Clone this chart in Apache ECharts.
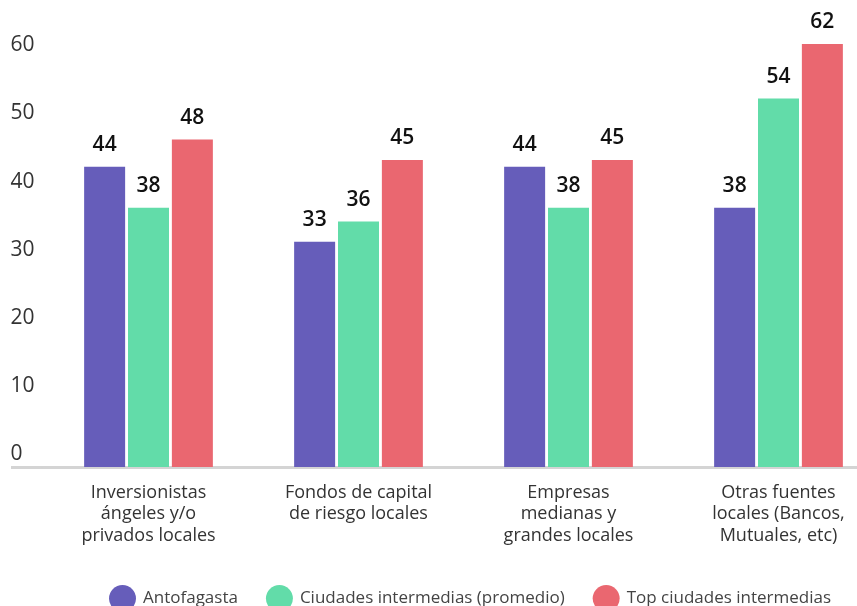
<!DOCTYPE html>
<html><head><meta charset="utf-8">
<script src="https://cdn.jsdelivr.net/npm/echarts@6/dist/echarts.min.js"></script>
<style>html,body{margin:0;padding:0;background:#fff}#c{width:857px;height:606px}</style>
</head><body><div id="c"></div>
<script>
const categories = ["Inversionistas\nángeles y/o\nprivados locales", "Fondos de capital\nde riesgo locales", "Empresas\nmedianas y\ngrandes locales", "Otras fuentes\nlocales (Bancos,\nMutuales, etc)"];
const seriesNames = ["Antofagasta", "Ciudades intermedias (promedio)", "Top ciudades intermedias"];
const antofagasta = [44, 33, 44, 38];
const intermediasProm = [38, 36, 38, 54];
const topIntermedias = [48, 45, 45, 62];
const colors = ["#665DBA", "#62DCA9", "#EA6770"];
const FONT = "Open Sans";
const chart = echarts.init(document.getElementById('c'));
const mk = (name, data, color) => ({
  name, type: 'bar', data, barWidth: 41, barGap: '7%',
  itemStyle: { color },
  label: { show: true, position: 'top', distance: 11, color: '#111', fontSize: 21, fontFamily: FONT, fontWeight: 600 }
});
chart.setOption({
  animation: false,
  textStyle: { fontFamily: FONT },
  grid: { left: 43.5, width: 840, top: 44, bottom: 139, containLabel: false, outerBoundsMode: 'none' },
  legend: {
    left: 104, top: 580, icon: 'circle', itemWidth: 27, itemHeight: 27, itemGap: 28,
    textStyle: { fontSize: 17, color: '#444', fontFamily: FONT, padding: [0, 0, 0, 2] },
    data: seriesNames
  },
  xAxis: {
    type: 'category', data: categories,
    axisLine: { show: true, lineStyle: { color: '#d4d4d4', width: 3 } },
    axisTick: { show: false },
    axisLabel: { interval: 0, margin: 15, fontSize: 18, lineHeight: 21.5, color: '#333', fontFamily: FONT, align: 'center' }
  },
  yAxis: {
    type: 'value', min: 0, max: 62, interval: 10,
    splitLine: { show: false }, axisLine: { show: false }, axisTick: { show: false },
    axisLabel: { showMaxLabel: false, align: 'left', margin: 33, verticalAlign: 'bottom', padding: [0, 0, 2, 0], fontSize: 21, color: '#333', fontFamily: FONT }
  },
  graphic: [{ type: 'rect', shape: { x: 11, y: 466, width: 34, height: 3 }, style: { fill: '#d4d4d4' }, silent: true }],
  series: [mk(seriesNames[0], antofagasta, colors[0]), mk(seriesNames[1], intermediasProm, colors[1]), mk(seriesNames[2], topIntermedias, colors[2])]
});
</script></body></html>
